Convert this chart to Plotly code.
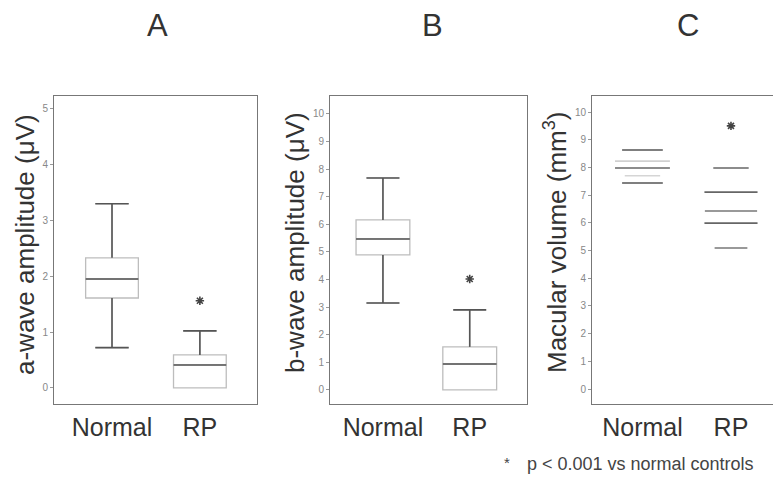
import plotly.graph_objects as go

# ---------------- data ----------------
categories = ["Normal", "RP"]

# Panel A: a-wave amplitude (µV)
a_q1 = [1.61, 0.0]
a_median = [1.95, 0.41]
a_q3 = [2.33, 0.59]
a_low = [0.72, 0.0]
a_high = [3.30, 1.02]
a_star = 1.56

# Panel B: b-wave amplitude (µV)
b_q1 = [4.89, 0.0]
b_median = [5.47, 0.94]
b_q3 = [6.16, 1.56]
b_low = [3.15, 0.0]
b_high = [7.68, 2.90]
b_star = 4.02

# Panel C: macular volume (mm3) – min, q1, median, q3, max
c_low = [7.44, 5.09]
c_q1 = [7.70, 5.99]
c_median = [7.98, 6.43]
c_q3 = [8.23, 7.11]
c_high = [8.63, 7.98]
c_star = 9.50

a_ticks = [0, 1, 2, 3, 4, 5]
bc_ticks = list(range(0, 11))

FONT = "Liberation Sans, Arial, sans-serif"
DARK = "#555555"
LIGHT = "#bdbdbd"

# page body has an 8px margin: lay out in window pixels and convert
OFF = 8
W, H = 781 - OFF, 477 - OFF


def px(x):
    return (x - OFF) / W


def py(y):
    return 1 - (y - OFF) / H


fig = go.Figure()
xs = [0, 1]


def whisker_median_lines(q1, med, q3, lo, hi, bw, cw):
    X, Y = [], []
    for i in range(len(xs)):
        c = xs[i]
        X += [c - bw / 2, c + bw / 2, None]
        Y += [med[i], med[i], None]
        if hi[i] > q3[i]:
            X += [c, c, None, c - cw / 2, c + cw / 2, None]
            Y += [q3[i], hi[i], None, hi[i], hi[i], None]
        if lo[i] < q1[i]:
            X += [c, c, None, c - cw / 2, c + cw / 2, None]
            Y += [q1[i], lo[i], None, lo[i], lo[i], None]
    return X, Y


def star_trace(y, xa, ya):
    return go.Scatter(x=[1], y=[y], mode="markers",
                      marker=dict(symbol="asterisk-open", size=7, color="#444",
                                  line=dict(color="#444", width=1.6)),
                      showlegend=False, hoverinfo="skip", xaxis=xa, yaxis=ya)


def add_box_panel(q1, med, q3, lo, hi, star, xa, ya, bw=0.6, cw=0.38):
    fig.add_trace(go.Box(
        x=xs, q1=q1, median=med, q3=q3, lowerfence=lo, upperfence=hi,
        width=bw, whiskerwidth=cw / bw, fillcolor="white",
        line=dict(color=LIGHT, width=1.3), boxpoints=False,
        showlegend=False, hoverinfo="skip", xaxis=xa, yaxis=ya))
    X, Y = whisker_median_lines(q1, med, q3, lo, hi, bw, cw)
    fig.add_trace(go.Scatter(x=X, y=Y, mode="lines",
                             line=dict(color=DARK, width=1.6),
                             showlegend=False, hoverinfo="skip",
                             xaxis=xa, yaxis=ya))
    fig.add_trace(star_trace(star, xa, ya))


add_box_panel(a_q1, a_median, a_q3, a_low, a_high, a_star, "x", "y")
add_box_panel(b_q1, b_median, b_q3, b_low, b_high, b_star, "x2", "y2", bw=0.62)

# Panel C: horizontal markers only
c_levels = [
    (c_high, [0.46, 0.40], ["#555555", "#666666"]),
    (c_q3, [0.62, 0.60], ["#d0d0d0", "#666666"]),
    (c_median, [0.62, 0.59], ["#666666", "#777777"]),
    (c_q1, [0.40, 0.60], ["#d5d5d5", "#666666"]),
    (c_low, [0.46, 0.37], ["#555555", "#777777"]),
]
for vals, widths, cols in c_levels:
    for i in range(len(xs)):
        fig.add_trace(go.Scatter(
            x=[xs[i] - widths[i] / 2, xs[i] + widths[i] / 2],
            y=[vals[i], vals[i]], mode="lines",
            line=dict(color=cols[i], width=1.6),
            showlegend=False, hoverinfo="skip", xaxis="x3", yaxis="y3"))
fig.add_trace(star_trace(c_star, "x3", "y3"))


def xaxis(dom, rng):
    return dict(domain=dom, range=rng, tickvals=xs, ticktext=categories,
                showline=True, mirror=True, linecolor="#777", linewidth=1,
                ticks="", ticklabelstandoff=1, showgrid=False, zeroline=False,
                tickfont=dict(size=25, color="#333", family=FONT))


def yaxis(dom, rng, ticks, anchor, mirror=True):
    return dict(domain=dom, range=rng, tickvals=ticks, anchor=anchor,
                showline=True, mirror=mirror, linecolor="#777", linewidth=1,
                ticks="outside", ticklen=3, tickcolor="#999",
                showgrid=False, zeroline=False,
                tickfont=dict(size=10, color="#888", family=FONT))


ydom = [py(404), py(96)]
fig.update_layout(
    width=W, height=H, margin=dict(l=0, r=0, t=0, b=0),
    paper_bgcolor="white", plot_bgcolor="white",
    font=dict(family=FONT),
    xaxis=dict(**xaxis([px(54), px(257)], [-0.66, 1.65]), anchor="y"),
    yaxis=yaxis(ydom, [-0.29, 5.23], a_ticks, "x"),
    xaxis2=dict(**xaxis([px(330), px(527)], [-0.61, 1.66]), anchor="y2"),
    yaxis2=yaxis(ydom, [-0.51, 10.65], bc_ticks, "x2"),
    xaxis3=dict(**xaxis([px(592), 1.0], [-0.57, 1.565]), anchor="y3"),
    yaxis3=yaxis(ydom, [-0.54, 10.58], bc_ticks, "x3", mirror=False),
)

ann = []
for txt, x in [("A", 157), ("B", 432), ("C", 688)]:
    ann.append(dict(text=txt, x=px(x), y=py(26), xref="paper", yref="paper",
                    xanchor="center", yanchor="middle", showarrow=False,
                    font=dict(size=31, color="#333", family=FONT)))
for txt, x, y in [("a-wave amplitude (μV)", 25, 245),
                  ("b-wave amplitude (μV)", 295, 243),
                  ("Macular volume (mm<sup>3</sup>)", 556, 242)]:
    ann.append(dict(text=txt, x=px(x), y=py(y), xref="paper", yref="paper",
                    xanchor="center", yanchor="middle",
                    textangle=-90, showarrow=False,
                    font=dict(size=26, color="#333", family=FONT)))
ann.append(dict(text="*", x=px(507), y=py(462),
                xref="paper", yref="paper", xanchor="center", yanchor="middle",
                showarrow=False, font=dict(size=15, color="#444", family=FONT)))
ann.append(dict(text="p < 0.001 vs normal controls", x=px(525), y=py(464),
                xref="paper", yref="paper", xanchor="left", yanchor="middle",
                showarrow=False, font=dict(size=18, color="#444", family=FONT)))
fig.update_layout(annotations=ann)

fig.write_html("out.html")
